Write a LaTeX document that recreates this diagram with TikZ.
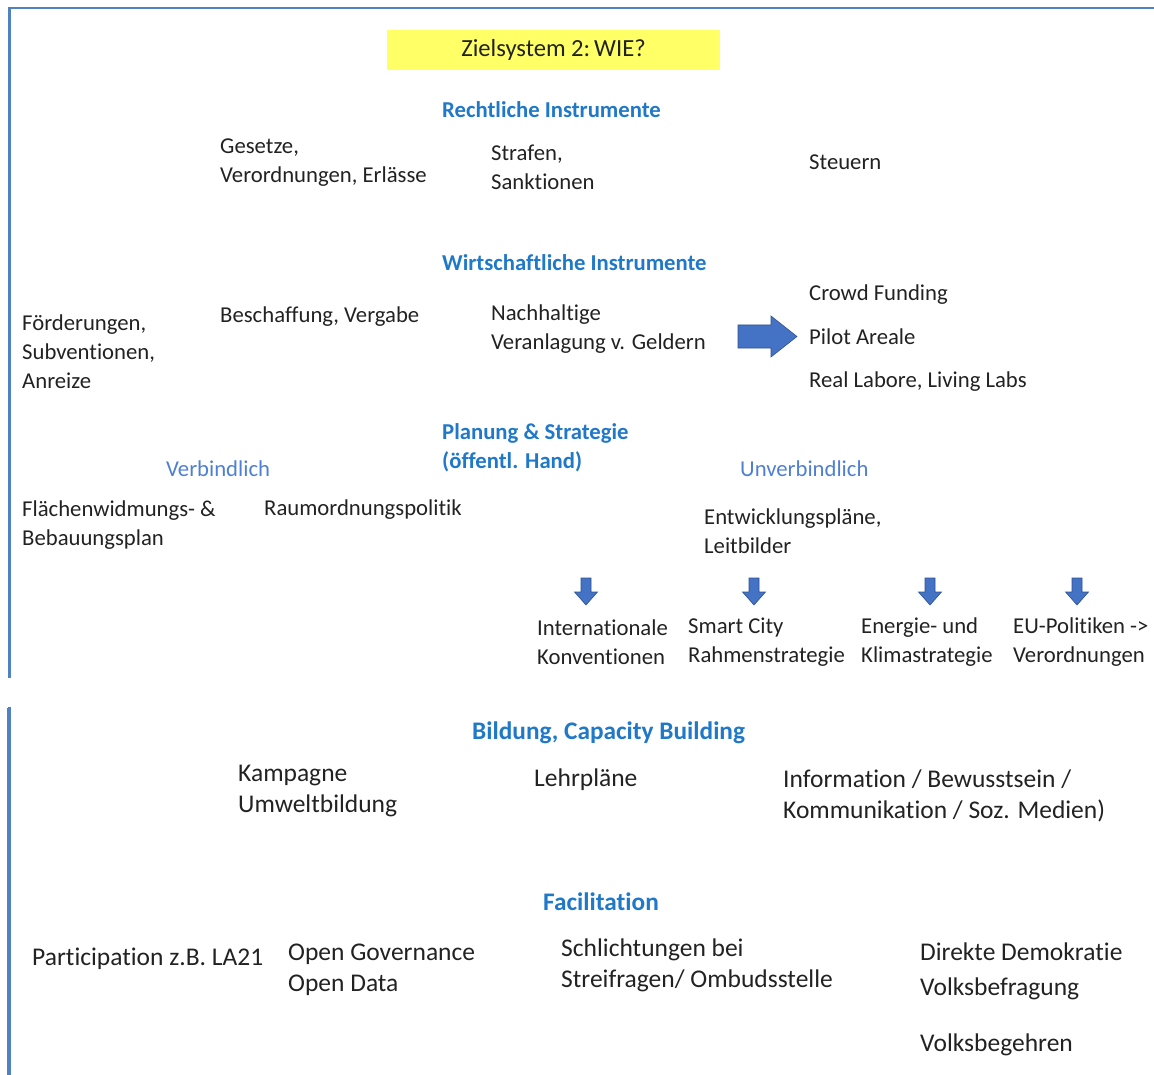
\documentclass[tikz,border=0pt]{standalone}
\usepackage{fontspec}
\setmainfont{Carlito}[Ligatures=NoCommon]
\definecolor{bordblue}{HTML}{5081C2}
\definecolor{headblue}{HTML}{1F78C8}
\definecolor{subblue}{HTML}{4F7FD2}
\definecolor{txtgray}{HTML}{222222}
\definecolor{titleyellow}{HTML}{FFFF66}
\definecolor{arrfill}{HTML}{4472C4}
\definecolor{arrline}{HTML}{2F528F}
\tikzset{
  txt/.style={inner sep=0pt, anchor=west, align=left, text=txtgray, font=\fontsize{22.7}{29}\selectfont},
  txtL/.style={inner sep=0pt, anchor=west, align=left, text=txtgray, font=\fontsize{25.5}{31}\selectfont},
  head/.style={inner sep=0pt, anchor=west, align=left, text=headblue, font=\fontsize{22.7}{29}\selectfont\bfseries},
  headL/.style={inner sep=0pt, anchor=west, align=left, text=headblue, font=\fontsize{25.3}{31}\selectfont\bfseries},
  sub/.style={inner sep=0pt, anchor=west, text=subblue, font=\fontsize{22.7}{29}\selectfont},
  frame/.style={draw=bordblue, line width=2.6pt},
  bigarrow/.style={fill=arrfill, draw=arrline, line width=0.6pt},
}
\begin{document}
\begin{tikzpicture}[x=1pt,y=-1pt]
\useasboundingbox (0,0) rectangle (1154,1075);
% frame
\draw[frame] (9.5,1075) -- (9.5,8) -- (1154,8);
\fill[white] (0,678) rectangle (40,707);
\draw[frame] (8.5,708) -- (8.5,1075);
% title
\node[fill=titleyellow, minimum width=333pt, minimum height=40pt, inner sep=0pt, text=txtgray,
      font=\fontsize{24.6}{28}\selectfont] (title) at (553.5,50) {Zielsystem 2:\hspace{0.16em}WIE?};
% Rechtliche Instrumente
\node[head] (recht) at (442,110) {Rechtliche Instrumente};
\node[txt] (gesetze) at (220,162.5) {Gesetze,\\Verordnungen, Erlässe};
\node[txt] (strafen) at (491,167) {Strafen,\\Sanktionen};
\node[txt] (steuern) at (809,162) {Steuern};
% Wirtschaftliche Instrumente
\node[head] (wirt) at (442,263) {Wirtschaftliche Instrumente};
\node[txt] (foerd) at (22,351.5) {Förderungen,\\Subventionen,\\Anreize};
\node[txt] (beschaff) at (220,317) {Beschaffung, Vergabe};
\node[txt] (nachh) at (491,329.5) {Nachhaltige\\Veranlagung v. Geldern};
\draw[bigarrow] (738,325) -- (771,325) -- (771,316) -- (797,336.5) -- (771,357) -- (771,348) -- (738,348) -- cycle;
\node[txt] (crowd) at (809,295) {Crowd Funding};
\node[txt] (pilot) at (809,336.5) {Pilot Areale};
\node[txt] (reallab) at (809,381.5) {Real Labore, Living Labs};
% Planung & Strategie
\node[head] (plan) at (442,448) {Planung \& Strategie\\(öffentl. Hand)};
\node[sub] (verb) at (166,469) {Verbindlich};
\node[sub] (unverb) at (740,469) {Unverbindlich};
\node[txt] (flaechen) at (22,525) {Flächenwidmungs- \&\\Bebauungsplan};
\node[txt] (raum) at (264,510) {Raumordnungspolitik};
\node[txt] (entw) at (704,531) {Entwicklungspläne,\\Leitbilder};
\foreach \cx in {586,754,930,1077}{
  \draw[bigarrow] (\cx-5,578) -- (\cx+5,578) -- (\cx+5,592) -- (\cx+11.5,592) -- (\cx,605) -- (\cx-11.5,592) -- (\cx-5,592) -- cycle;
}
\node[txt] (intern) at (537,642) {Internationale\\Konventionen};
\node[txt] (smart) at (688,642.5) {Smart City\\Rahmenstrategie};
\node[txt] (energie) at (861,642.5) {Energie- und\\Klimastrategie};
\node[txt] (eupol) at (1013,642.5) {EU-Politiken ->\\Verordnungen};
% Bildung
\node[headL] (bildung) at (472,733) {Bildung, Capacity Building};
\node[txtL] (kampagne) at (238,791.5) {Kampagne\\Umweltbildung};
\node[txtL] (lehr) at (534,779.5) {Lehrpläne};
\node[txtL] (info) at (783,796) {Information / Bewusstsein /\\Kommunikation / Soz. Medien)};
% Facilitation
\node[headL] (facil) at (543,901.5) {Facilitation};
\node[txtL] (partic) at (32,958.5) {Participation z.B. LA21};
\node[txtL] (opengov) at (288,969.5) {Open Governance\\Open Data};
\node[txtL] (schlicht) at (561,965.5) {Schlichtungen bei\\Streifragen/ Ombudsstelle};
\node[txtL] (direkt) at (920,952) {Direkte Demokratie};
\node[txtL] (volksbef) at (920,989) {Volksbefragung};
\node[txtL] (volksbeg) at (920,1045) {Volksbegehren};
\end{tikzpicture}
\end{document}
